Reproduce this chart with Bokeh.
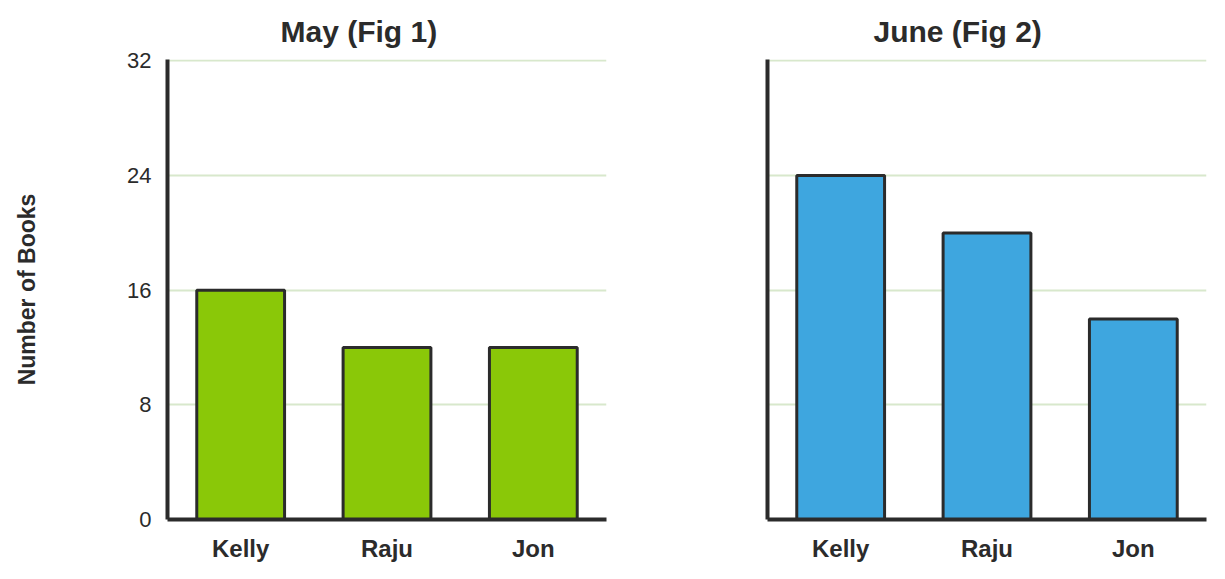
from bokeh.plotting import figure
from bokeh.layouts import row
from bokeh.models import FactorRange, Range1d, FixedTicker
from bokeh.embed import file_html
from bokeh.resources import INLINE

students = ["Kelly", "Raju", "Jon"]
may_books = [16, 12, 12]
june_books = [24, 20, 14]
y_ticks = [0, 8, 16, 24, 32]
titles = ["May (Fig 1)", "June (Fig 2)"]
y_label = "Number of Books"

FONT = "Liberation Sans"
DARK = "#2b2b2b"


def make(title, values, color, width, border_left, border_right, title_offset, show_y):
    p = figure(x_range=FactorRange(*students, range_padding=0),
               y_range=Range1d(0, 32.1), width=width, height=573,
               output_backend="svg", toolbar_location=None,
               min_border_left=border_left, min_border_right=border_right,
               min_border_top=59, min_border_bottom=54)
    p.outline_line_color = None
    p.vbar(x=students, top=values, width=0.6, fill_color=color,
           line_color=DARK, line_width=3)
    p.title.text = title
    p.title.align = "left"
    p.title.offset = title_offset
    p.title.standoff = 23
    p.title.text_font = FONT
    p.title.text_font_size = "30px"
    p.title.text_font_style = "bold"
    p.title.text_color = DARK
    p.xgrid.grid_line_color = None
    p.ygrid.grid_line_color = "#d8e8cc"
    p.ygrid.grid_line_width = 2
    p.yaxis.ticker = FixedTicker(ticks=y_ticks)
    for ax in (p.xaxis[0], p.yaxis[0]):
        ax.axis_line_color = DARK
        ax.axis_line_width = 4
        ax.major_tick_line_color = None
        ax.minor_tick_line_color = None
        ax.major_tick_out = 0
        ax.major_tick_in = 0
    p.xaxis.major_label_text_font = FONT
    p.xaxis.major_label_text_font_size = "24px"
    p.xaxis.major_label_text_font_style = "bold"
    p.xaxis.major_label_text_color = DARK
    p.xaxis.major_label_standoff = 15
    if show_y:
        p.yaxis.major_label_text_font = FONT
        p.yaxis.major_label_text_font_size = "22px"
        p.yaxis.major_label_text_color = DARK
        p.yaxis.major_label_standoff = 16
        p.yaxis.axis_label = y_label
        p.yaxis.axis_label_text_font = FONT
        p.yaxis.axis_label_text_font_size = "23px"
        p.yaxis.axis_label_text_font_style = "bold"
        p.yaxis.axis_label_text_color = DARK
        p.yaxis.axis_label_standoff = 84
    else:
        p.yaxis.major_label_text_font_size = "0px"
        p.yaxis.major_label_text_color = None
    return p


p1 = make(titles[0], may_books, "#8ac808", 687, 167, 81, 113, True)
p2 = make(titles[1], june_books, "#3ea6df", 529, 80, 10, 106, False)
layout = row(p1, p2)

open("out.html", "w").write(file_html(layout, INLINE))
